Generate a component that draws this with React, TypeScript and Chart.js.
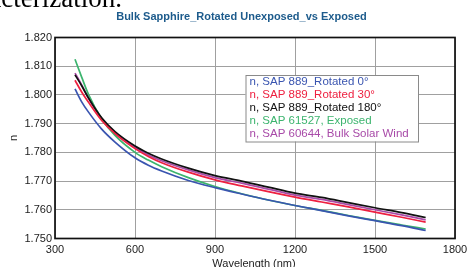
import React, { useEffect, useRef } from "react";
import { Chart, registerables } from "chart.js";

Chart.register(...registerables);

const wavelengths = [375, 400, 425, 475, 525, 600, 650, 700, 800, 900, 1000, 1100, 1200, 1300, 1400, 1500, 1600, 1690];

const rot0 = [1.8021, 1.7976, 1.7941, 1.7881, 1.7836, 1.7781, 1.7755, 1.7735, 1.7702, 1.7677, 1.7655, 1.7634, 1.7615, 1.7597, 1.7579, 1.7562, 1.7545, 1.7528];
const rot30 = [1.8051, 1.8010, 1.7975, 1.7911, 1.7865, 1.7813, 1.7786, 1.7764, 1.7731, 1.7704, 1.7683, 1.7663, 1.7644, 1.7627, 1.7610, 1.7592, 1.7574, 1.7557];
const rot180 = [1.8070, 1.8032, 1.7990, 1.7920, 1.7872, 1.7822, 1.7797, 1.7777, 1.7745, 1.7719, 1.7700, 1.7679, 1.7658, 1.7643, 1.7625, 1.7607, 1.7590, 1.7573];
const exposed = [1.8124, 1.8062, 1.8003, 1.7917, 1.7859, 1.7800, 1.7773, 1.7750, 1.7712, 1.7681, 1.7656, 1.7634, 1.7615, 1.7598, 1.7580, 1.7563, 1.7547, 1.7533];
const solarWind = [1.8076, 1.8035, 1.7990, 1.7918, 1.7868, 1.7817, 1.7791, 1.7771, 1.7739, 1.7712, 1.7693, 1.7672, 1.7651, 1.7636, 1.7618, 1.7600, 1.7582, 1.7565];

const seriesLabels = [
  "n, SAP 889_Rotated 0°",
  "n, SAP 889_Rotated 30°",
  "n, SAP 889_Rotated 180°",
  "n, SAP 61527, Exposed",
  "n, SAP 60644, Bulk Solar Wind",
];
const seriesColors = ["#3a55b0", "#ee2040", "#111111", "#3cb46e", "#a84aa8"];
const seriesValues = [rot0, rot30, rot180, exposed, solarWind];

const xTicks = [300, 600, 900, 1200, 1500, 1800];
const yMin = 1.75;
const yMax = 1.82;
const yStep = 0.01;

const titleText = "Bulk Sapphire_Rotated Unexposed_vs Exposed";
const xTitle = "Wavelength (nm)";
const yTitle = "n";

const FONT = '"Liberation Sans", Arial, sans-serif';

const overlayPlugin = {
  id: "overlay",
  afterDraw(chart: any) {
    const ctx = chart.ctx;
    const { left, top, right, bottom } = chart.chartArea;
    ctx.save();
    // frame
    ctx.strokeStyle = "#111";
    ctx.lineWidth = 1.7;
    ctx.strokeRect(left, top, right - left, bottom - top);
    // title
    ctx.fillStyle = "#1d5b8c";
    ctx.font = "bold 11px " + FONT;
    ctx.textAlign = "center";
    ctx.textBaseline = "alphabetic";
    ctx.fillText(titleText, 241.5, 19.5);
    // x title
    ctx.fillStyle = "#222";
    ctx.font = "11px " + FONT;
    ctx.fillText(xTitle, 254, 266.5);
    // y title
    ctx.save();
    ctx.translate(16.5, 138);
    ctx.rotate(-Math.PI / 2);
    ctx.textBaseline = "alphabetic";
    ctx.fillText(yTitle, 0, 0);
    ctx.restore();
    // legend
    const lx = left + 190.5;
    const ly = top + 37.5;
    const lw = 172.5;
    const lh = 66.5;
    ctx.fillStyle = "#fff";
    ctx.fillRect(lx, ly, lw, lh);
    ctx.strokeStyle = "#8a8a8a";
    ctx.lineWidth = 1;
    ctx.strokeRect(lx + 0.5, ly + 0.5, lw, lh);
    ctx.font = "11.5px " + FONT;
    ctx.textAlign = "left";
    ctx.textBaseline = "middle";
    seriesLabels.forEach((lab, i) => {
      ctx.fillStyle = seriesColors[i];
      ctx.fillText(lab, lx + 4, ly + 7 + i * 12.9);
    });
    ctx.restore();
  },
};

export default function App() {
  const ref = useRef<HTMLCanvasElement | null>(null);
  useEffect(() => {
    if (!ref.current) return;
    const chart = new Chart(ref.current, {
      type: "line",
      data: {
        datasets: seriesValues.map((vals, i) => ({
          label: seriesLabels[i],
          data: wavelengths.map((w, j) => ({ x: w, y: vals[j] })),
          borderColor: seriesColors[i],
          backgroundColor: seriesColors[i],
          borderWidth: 1.7,
          pointRadius: 0,
          cubicInterpolationMode: "monotone" as const,
          fill: false,
        })),
      },
      options: {
        animation: false,
        responsive: true,
        maintainAspectRatio: false,
        layout: { padding: { top: 37.5, right: 12, left: 0, bottom: 0 } },
        plugins: {
          legend: { display: false },
          title: { display: false },
          tooltip: { enabled: false },
        },
        scales: {
          x: {
            type: "linear",
            min: 300,
            max: 1800,
            afterBuildTicks: (scale: any) => {
              scale.ticks = xTicks.map((v) => ({ value: v }));
            },
            afterFit: (scale: any) => {
              scale.height = 28.5;
              scale.paddingLeft = 0;
              scale.paddingRight = 0;
            },
            grid: { color: "#a0a0a0", lineWidth: 1, drawTicks: false },
            border: { display: false },
            ticks: {
              padding: 5,
              color: "#222",
              font: { family: FONT, size: 11 },
              maxRotation: 0,
              autoSkip: false,
              callback: (v: any) => String(v),
            },
          },
          y: {
            type: "linear",
            min: yMin,
            max: yMax,
            afterFit: (scale: any) => {
              scale.width = 55;
              scale.paddingTop = 0;
              scale.paddingBottom = 0;
            },
            grid: { color: "#a0a0a0", lineWidth: 1, drawTicks: false },
            border: { display: false },
            ticks: {
              stepSize: yStep,
              padding: 3,
              color: "#222",
              font: { family: FONT, size: 11 },
              callback: (v: any) => Number(v).toFixed(3),
            },
          },
        },
      },
      plugins: [overlayPlugin],
    });
    return () => chart.destroy();
  }, []);

  return (
    <div style={{ position: "absolute", left: 0, top: 0, width: 467, height: 267, background: "#fff", overflow: "hidden" }}>
      <canvas ref={ref} width={467} height={267} style={{ position: "absolute", left: 0, top: 0 }} />
      <div
        style={{
          position: "absolute",
          left: 0,
          top: 0,
          width: 122,
          height: 10,
          overflow: "hidden",
        }}
      >
        <span
          style={{
            position: "absolute",
            right: 0,
            top: -14.6,
            whiteSpace: "nowrap",
            fontFamily: '"Liberation Serif", "Times New Roman", serif',
            fontSize: 27,
            lineHeight: "27px",
            color: "#000",
          }}
        >
          characterization.
        </span>
      </div>
    </div>
  );
}
